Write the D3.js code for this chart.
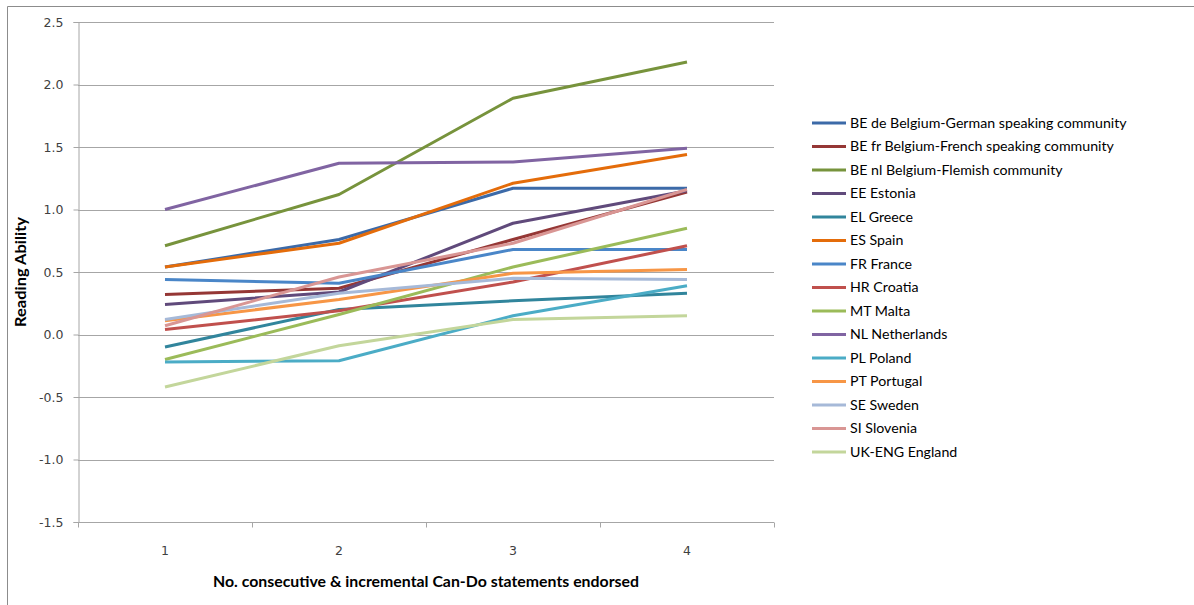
<!DOCTYPE html>
<html>
<head>
<meta charset="utf-8">
<script src="https://cdn.jsdelivr.net/npm/d3@7"></script>
<style>
  html, body { margin: 0; padding: 0; background: #fff; }
  svg { display: block; }
</style>
</head>
<body>
<svg id="chart" width="1194" height="605"></svg>
<script>
// Number of consecutive Can-Do statements endorsed
const categories = ["1", "2", "3", "4"];

// Mean reading ability per country / community
const seriesNames = [
  "BE de Belgium-German speaking community",
  "BE fr Belgium-French speaking community",
  "BE nl Belgium-Flemish community",
  "EE Estonia",
  "EL Greece",
  "ES Spain",
  "FR France",
  "HR Croatia",
  "MT Malta",
  "NL Netherlands",
  "PL Poland",
  "PT Portugal",
  "SE Sweden",
  "SI Slovenia",
  "UK-ENG England"
];

const beDe  = [0.54, 0.76, 1.17, 1.17];
const beFr  = [0.32, 0.37, 0.76, 1.14];
const beNl  = [0.71, 1.12, 1.89, 2.18];
const ee    = [0.24, 0.34, 0.89, 1.15];
const el    = [-0.10, 0.20, 0.27, 0.33];
const es    = [0.54, 0.73, 1.21, 1.44];
const fr    = [0.44, 0.41, 0.68, 0.68];
const hr    = [0.04, 0.19, 0.42, 0.71];
const mt    = [-0.20, 0.16, 0.54, 0.85];
const nl    = [1.00, 1.37, 1.38, 1.49];
const pl    = [-0.22, -0.21, 0.15, 0.39];
const pt    = [0.11, 0.28, 0.49, 0.52];
const se    = [0.12, 0.33, 0.45, 0.44];
const si    = [0.07, 0.46, 0.73, 1.16];
const ukEng = [-0.42, -0.09, 0.12, 0.15];

const seriesValues = [beDe, beFr, beNl, ee, el, es, fr, hr, mt, nl, pl, pt, se, si, ukEng];

const seriesColors = [
  "#3C6AA8", "#953735", "#77933C", "#604A7B", "#31859C",
  "#E46C0A", "#4A86C8", "#C0504D", "#9BBB59", "#8064A2",
  "#4BACC6", "#F79646", "#A6B9D8", "#D99694", "#C3D69B"
];

const yTicks = [-1.5, -1.0, -0.5, 0.0, 0.5, 1.0, 1.5, 2.0, 2.5];

const svg = d3.select("#chart");

// Outer chart frame
svg.append("path")
  .attr("d", "M7.5,605 L7.5,6.5 L1194,6.5")
  .attr("fill", "none")
  .attr("stroke", "#8c8c8c")
  .attr("stroke-width", 1);

const plot = { left: 78, right: 774, top: 22, bottom: 522 };

const x = d3.scaleBand()
  .domain(categories)
  .range([plot.left, plot.right]);

const y = d3.scaleLinear()
  .domain([-1.5, 2.5])
  .range([plot.bottom, plot.top]);

// Horizontal gridlines
svg.append("g")
  .selectAll("line")
  .data(yTicks)
  .join("line")
  .attr("x1", plot.left)
  .attr("x2", plot.right)
  .attr("y1", d => Math.round(y(d)) + 0.5)
  .attr("y2", d => Math.round(y(d)) + 0.5)
  .attr("stroke", "#a6a6a6")
  .attr("stroke-width", 1);

// Y axis (plain hyphen for negatives)
const fmt = d => d3.format(".1f")(d).replace("\u2212", "-");
const yAxis = svg.append("g")
  .attr("transform", `translate(${plot.left + 0.5},0)`)
  .call(d3.axisLeft(y).tickValues(yTicks).tickFormat(fmt).tickSize(5).tickPadding(10));
yAxis.select(".domain").attr("stroke", "#a6a6a6");
yAxis.selectAll(".tick line").attr("stroke", "#a6a6a6");
yAxis.selectAll(".tick text")
  .attr("fill", "#404040")
  .style("font-family", "'DejaVu Sans', Verdana, sans-serif")
  .style("font-size", "12.5px");

// X axis with tick marks at category boundaries
const xAxis = svg.append("g")
  .attr("transform", `translate(0,${plot.bottom + 0.5})`);
xAxis.append("line")
  .attr("x1", plot.left).attr("x2", plot.right)
  .attr("stroke", "#a6a6a6");
const boundaries = categories.map(c => x(c)).concat([x(categories[categories.length - 1]) + x.bandwidth()]);
xAxis.selectAll("line.tk")
  .data(boundaries)
  .join("line")
  .attr("class", "tk")
  .attr("x1", d => Math.round(d) + 0.5)
  .attr("x2", d => Math.round(d) + 0.5)
  .attr("y1", 0).attr("y2", 5)
  .attr("stroke", "#a6a6a6");
xAxis.selectAll("text")
  .data(categories)
  .join("text")
  .attr("x", d => x(d) + x.bandwidth() / 2)
  .attr("y", 32)
  .attr("text-anchor", "middle")
  .attr("fill", "#404040")
  .style("font-family", "'DejaVu Sans', Verdana, sans-serif")
  .style("font-size", "12.5px")
  .text(d => d);

// Axis titles
svg.append("text")
  .attr("transform", `translate(26,${(plot.top + plot.bottom) / 2}) rotate(-90)`)
  .attr("text-anchor", "middle")
  .attr("textLength", 110)
  .attr("lengthAdjust", "spacingAndGlyphs")
  .style("font-family", "Lato, 'Open Sans', sans-serif")
  .style("font-size", "14.5px")
  .style("font-weight", "bold")
  .attr("fill", "#000")
  .text("Reading Ability");

svg.append("text")
  .attr("x", (plot.left + plot.right) / 2)
  .attr("y", 587)
  .attr("text-anchor", "middle")
  .attr("textLength", 426)
  .attr("lengthAdjust", "spacingAndGlyphs")
  .style("font-family", "Lato, 'Open Sans', sans-serif")
  .style("font-size", "14.5px")
  .style("font-weight", "bold")
  .attr("fill", "#000")
  .text("No. consecutive & incremental Can-Do statements endorsed");

// Series lines
const line = d3.line()
  .x((d, i) => x(categories[i]) + x.bandwidth() / 2)
  .y(d => y(d));

svg.append("g")
  .selectAll("path")
  .data(seriesValues)
  .join("path")
  .attr("d", d => line(d))
  .attr("fill", "none")
  .attr("stroke", (d, i) => seriesColors[i])
  .attr("stroke-width", 3)
  .attr("stroke-linejoin", "round");

// Legend
const legend = svg.append("g").attr("transform", "translate(812,123)");
const rows = legend.selectAll("g")
  .data(seriesNames)
  .join("g")
  .attr("transform", (d, i) => `translate(0,${i * 23.5})`);
rows.append("line")
  .attr("x1", 0).attr("x2", 34)
  .attr("y1", 0).attr("y2", 0)
  .attr("stroke", (d, i) => seriesColors[i])
  .attr("stroke-width", 3);
rows.append("text")
  .attr("x", 38)
  .attr("y", 0)
  .attr("dy", "0.35em")
  .style("font-family", "Lato, 'Open Sans', sans-serif")
  .style("font-size", "14.2px")
  .attr("fill", "#000")
  .text(d => d);
</script>
</body>
</html>
